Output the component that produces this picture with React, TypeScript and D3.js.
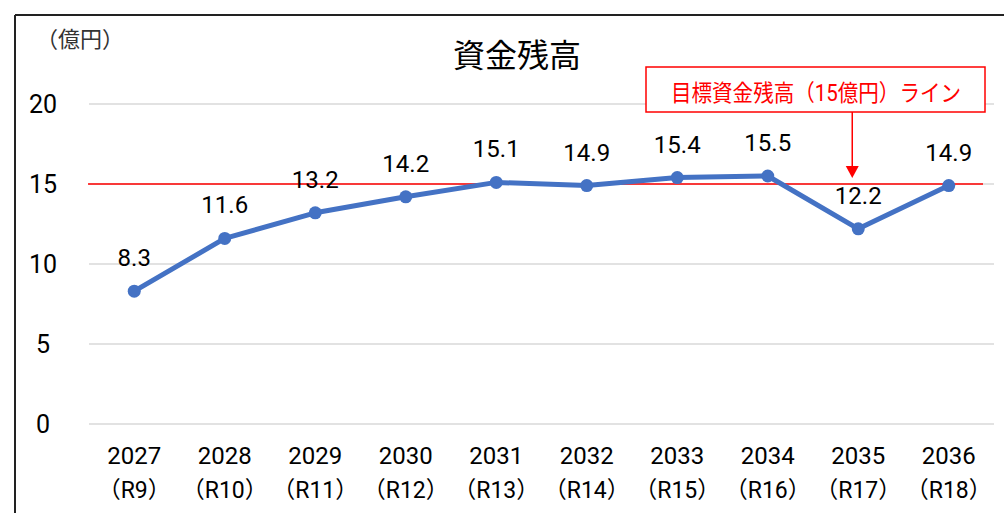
import React from "react";
import * as d3 from "d3";

const years = ["2027", "2028", "2029", "2030", "2031", "2032", "2033", "2034", "2035", "2036"];
const reiwa = ["（R9）", "（R10）", "（R11）", "（R12）", "（R13）", "（R14）", "（R15）", "（R16）", "（R17）", "（R18）"];
const balances = [8.3, 11.6, 13.2, 14.2, 15.1, 14.9, 15.4, 15.5, 12.2, 14.9];
const yTicks = [0, 5, 10, 15, 20];
const targetLine = 15;
const title = "資金残高";
const unitLabel = "（億円）";
const annotation = "目標資金残高（15億円）ライン";
const annotatedIndex = 8;

const W = 1004;
const H = 513;
const FONT = "Roboto, 'Noto Sans CJK JP', sans-serif";

export default function App() {
  const x = d3.scaleBand<string>().domain(years).range([89, 994]);
  const y = d3.scaleLinear().domain([0, 20]).range([424, 104]);
  const cx = (i: number) => (x(years[i]) as number) + x.bandwidth() / 2;
  const line = d3
    .line<number>()
    .x((_, i) => cx(i))
    .y((d) => y(d));

  const arrowX = cx(annotatedIndex) - 6;
  const boxTop = 67;
  const boxBottom = 112;
  const tipY = y(targetLine) - 6;

  return (
    <svg width={W} height={H} style={{ position: "absolute", left: 0, top: 0, background: "#fff" }}>
      <rect x={0} y={0} width={W} height={H} fill="#fff" />
      {/* frame */}
      <line x1={15} y1={15} x2={W} y2={15} stroke="#222" strokeWidth={2} />
      <line x1={15} y1={15} x2={15} y2={H} stroke="#222" strokeWidth={2} />

      {/* gridlines */}
      {yTicks.map((t) => (
        <line key={t} x1={89} x2={994} y1={y(t)} y2={y(t)} stroke="#d9d9d9" strokeWidth={1.3} />
      ))}
      {yTicks.map((t) => (
        <text key={"l" + t} x={43} y={y(t) + 9} textAnchor="middle" fontSize={25} fontFamily={FONT} fill="#000">
          {t}
        </text>
      ))}

      <text x={80} y={47} textAnchor="middle" fontSize={22} fontFamily={FONT} fill="#333">
        {unitLabel}
      </text>
      <text x={517} y={67} textAnchor="middle" fontSize={32} fontFamily={FONT} fill="#000">
        {title}
      </text>

      {/* target line */}
      <line x1={88} x2={983} y1={y(targetLine)} y2={y(targetLine)} stroke="#ff0000" strokeWidth={1.5} />

      {/* series */}
      <path d={line(balances) || ""} fill="none" stroke="#4472c4" strokeWidth={5} strokeLinejoin="round" />
      {balances.map((v, i) => (
        <circle key={i} cx={cx(i)} cy={y(v)} r={6.5} fill="#4472c4" />
      ))}
      {balances.map((v, i) => (
        <text key={"d" + i} x={cx(i)} y={y(v) - 25} textAnchor="middle" fontSize={24} fontFamily={FONT} fill="#000">
          {v.toFixed(1)}
        </text>
      ))}

      {/* x labels */}
      {years.map((yr, i) => (
        <g key={yr}>
          <text x={cx(i)} y={464} textAnchor="middle" fontSize={24} fontFamily={FONT} fill="#000">
            {yr}
          </text>
          <text x={cx(i)} y={498} textAnchor="middle" fontSize={23} fontFamily={FONT} fill="#000">
            {reiwa[i]}
          </text>
        </g>
      ))}

      {/* annotation */}
      <line x1={arrowX} x2={arrowX} y1={boxBottom} y2={tipY - 11} stroke="#ff0000" strokeWidth={1.5} />
      <path
        d={`M${arrowX - 6.5},${tipY - 12} L${arrowX + 6.5},${tipY - 12} L${arrowX},${tipY} Z`}
        fill="#ff0000"
      />
      <rect x={646} y={boxTop} width={339} height={boxBottom - boxTop} fill="#fff" stroke="#ff0000" strokeWidth={1.5} />
      <text
        x={816}
        y={101}
        textAnchor="middle"
        fontSize={23}
        fontFamily={FONT}
        fill="#ff0000"
        textLength={290}
        lengthAdjust="spacingAndGlyphs"
      >
        {annotation}
      </text>
    </svg>
  );
}
